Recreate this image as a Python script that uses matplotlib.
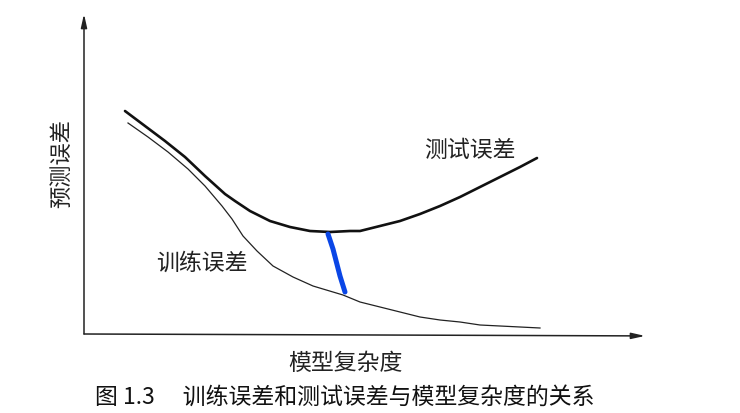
import matplotlib.pyplot as plt

plt.rcParams['font.family'] = ['Noto Sans CJK SC', 'DejaVu Sans']

# curves (arbitrary units: complexity, error)
test_x = [41, 61, 81, 101, 121, 141, 151, 166, 186, 206, 226, 246, 266, 276,
          296, 316, 336, 356, 376, 396, 416, 436, 453]
test_y = [223, 208, 193, 177, 158, 140, 133, 123, 113, 107, 103, 102, 103, 103,
          108, 113, 120, 128, 137, 147, 157, 167, 176]

train_x = [44, 64, 84, 104, 121, 138, 148, 159, 173, 189, 209, 229, 259, 276,
           296, 316, 336, 356, 376, 396, 416, 436, 456]
train_y = [211, 197, 182, 165, 148, 128, 115, 98, 83, 68, 57, 48, 39, 32,
           27, 22, 17, 14, 12, 9, 8, 7, 6]

# hand-drawn blue stroke between the curves
gap_x = [244, 249, 256, 261]
gap_y = [100, 85, 58, 42]

fig = plt.figure(figsize=(7.4, 4.14), dpi=100)
ax = fig.add_axes([84 / 740, 79 / 414, 561 / 740, 320 / 414])
ax.set_xlim(0, 561)
ax.set_ylim(0, 320)
for s in ax.spines.values():
    s.set_visible(False)
ax.set_xticks([])
ax.set_yticks([])

# axes with arrow heads
arrow = dict(arrowstyle='-|>,head_length=0.8,head_width=0.18', lw=1.1, color='#222222',
             shrinkA=0, shrinkB=0)
ax.annotate('', xy=(0, 1), xytext=(0, 0), xycoords='axes fraction', arrowprops=arrow)
ax.annotate('', xy=(1, -0.006), xytext=(0, 0), xycoords='axes fraction', arrowprops=arrow)

ax.plot(test_x, test_y, color='#111111', lw=1.9, solid_capstyle='round', solid_joinstyle='round')
ax.plot(train_x, train_y, color='#222222', lw=0.9, solid_joinstyle='round')
ax.plot(gap_x, gap_y, color='#0a46e6', lw=3.6, solid_capstyle='round', solid_joinstyle='round')

ax.text(386, 185, '测试误差', fontsize=16.5, ha='center', va='center', color='#222222')
ax.text(118, 72, '训练误差', fontsize=16.5, ha='center', va='center', color='#222222')
ax.text(-22, 172, '预测误差', fontsize=16, ha='center', va='center', rotation=90,
        color='#222222')

fig.text(345 / 740, 1 - 363 / 414, '模型复杂度', fontsize=16.5, ha='center', va='center',
         color='#222222')
fig.text(345 / 740, 1 - 397 / 414, '图 1.3　 训练误差和测试误差与模型复杂度的关系',
         fontsize=16.5, ha='center', va='center', color='#111111')

fig.savefig('out.png', dpi=100)
